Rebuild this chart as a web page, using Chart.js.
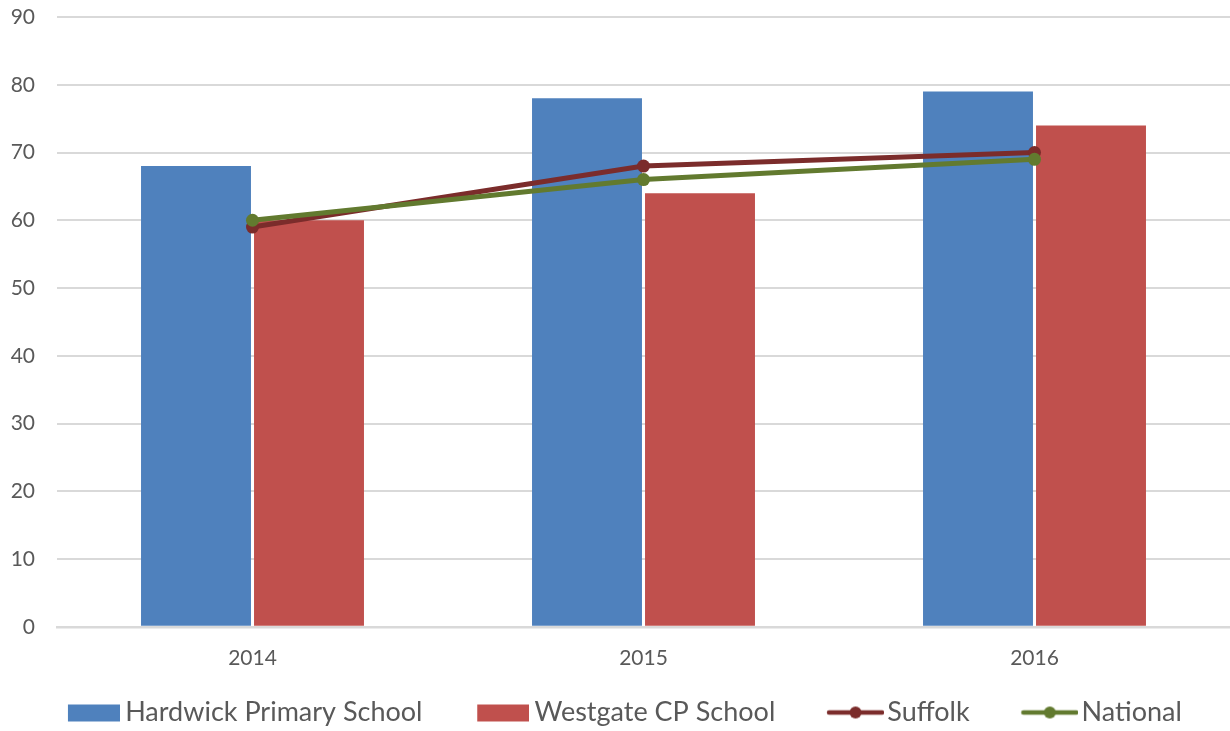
<!DOCTYPE html>
<html>
<head>
<meta charset="utf-8">
<script src="https://cdn.jsdelivr.net/npm/chart.js@4"></script>
<style>
  body { margin: 0; background: #fff; overflow: hidden; }
  #wrap { width: 1230px; height: 731px; }
  canvas { display: block; }
</style>
</head>
<body>
<div id="wrap"><canvas id="my-chart"></canvas></div>
<script>
const years = ["2014", "2015", "2016"];
const hardwick = [68, 78, 79];
const westgate = [60, 64, 74];
const suffolk = [59, 68, 70];
const national = [60, 66, 69];
const yTicks = [0, 10, 20, 30, 40, 50, 60, 70, 80, 90];

const blue = "#4F81BD";
const red = "#C0504D";
const maroon = "#7B2C2B";
const olive = "#627A2F";
const textGrey = "#595959";

// legend icons: drawn at the right end of a transparent canvas so the
// gap to the text stays small while the items keep Excel-like spacing
const iconBoxW = 89.5;
const makeIcon = (kind, color) => {
  const c = document.createElement("canvas");
  c.width = kind === "box" ? 106 : 110;
  c.height = 20;
  const g = c.getContext("2d");
  const right = c.width;
  if (kind === "box") {
    g.fillStyle = color;
    g.fillRect(right - 52, 2, 52, 17);
  } else {
    g.strokeStyle = color;
    g.lineWidth = 4.5;
    g.lineCap = "round";
    g.beginPath();
    g.moveTo(right - 55, 10);
    g.lineTo(right - 2, 10);
    g.stroke();
    g.fillStyle = color;
    g.beginPath();
    g.arc(right - 28.5, 10, 6, 0, Math.PI * 2);
    g.fill();
  }
  return c;
};
const icons = [makeIcon("box", blue), makeIcon("box", red), makeIcon("line", maroon), makeIcon("line", olive)];

const ctx = document.getElementById("my-chart").getContext("2d");
const chart = new Chart(ctx, {
  type: "bar",
  data: {
    labels: years,
    datasets: [
      { label: "Hardwick Primary School", data: hardwick, backgroundColor: blue, order: 10,
        categoryPercentage: 0.578, barPercentage: 0.973 },
      { label: "Westgate CP School", data: westgate, backgroundColor: red, order: 10,
        categoryPercentage: 0.578, barPercentage: 0.973 },
      { type: "line", label: "Suffolk", data: suffolk, borderColor: maroon, backgroundColor: maroon,
        borderWidth: 5, pointRadius: 6.5, pointHoverRadius: 6.5, pointBackgroundColor: maroon,
        pointBorderWidth: 0, order: 2 },
      { type: "line", label: "National", data: national, borderColor: olive, backgroundColor: olive,
        borderWidth: 5, pointRadius: 6.5, pointHoverRadius: 6.5, pointBackgroundColor: olive,
        pointBorderWidth: 0, order: 1 },
    ],
  },
  options: {
    responsive: true,
    maintainAspectRatio: false,
    animation: false,
    // negative left padding widens the legend box so the row sits where Excel put it
    layout: { autoPadding: false, padding: { top: 17, right: 0, bottom: -5, left: -26 } },
    scales: {
      x: {
        afterFit: (scale) => { scale.paddingLeft = 0; scale.paddingRight = 0; },
        grid: { display: false, drawTicks: false },
        border: { color: "#D9D9D9", width: 2.5 },
        ticks: { color: textGrey, font: { family: "Lato", size: 21 }, padding: 19 },
      },
      y: {
        min: 0,
        max: 90,
        afterBuildTicks: (scale) => { scale.ticks = yTicks.map((v) => ({ value: v })); },
        afterFit: (scale) => { scale.width = 83; scale.paddingLeft = 0; scale.paddingRight = 0; },
        grid: { color: "#D9D9D9", lineWidth: 2, drawTicks: true, tickLength: 22, tickColor: "rgba(0,0,0,0)" },
        border: { display: false },
        ticks: { color: textGrey, font: { family: "Lato", size: 21 }, padding: 0 },
      },
    },
    plugins: {
      tooltip: { enabled: false },
      legend: {
        position: "bottom",
        labels: {
          color: textGrey,
          font: { family: "Lato", size: 27 },
          usePointStyle: true,
          pointStyleWidth: iconBoxW,
          padding: 9,
          sort: (a, b) => a.datasetIndex - b.datasetIndex,
          generateLabels: (chart) => {
            const items = Chart.defaults.plugins.legend.labels.generateLabels(chart);
            return items.map((it) => ({ ...it, pointStyle: icons[it.datasetIndex] }));
          },
        },
      },
    },
  },
}); // closes chart
</script>
</body>
</html>
